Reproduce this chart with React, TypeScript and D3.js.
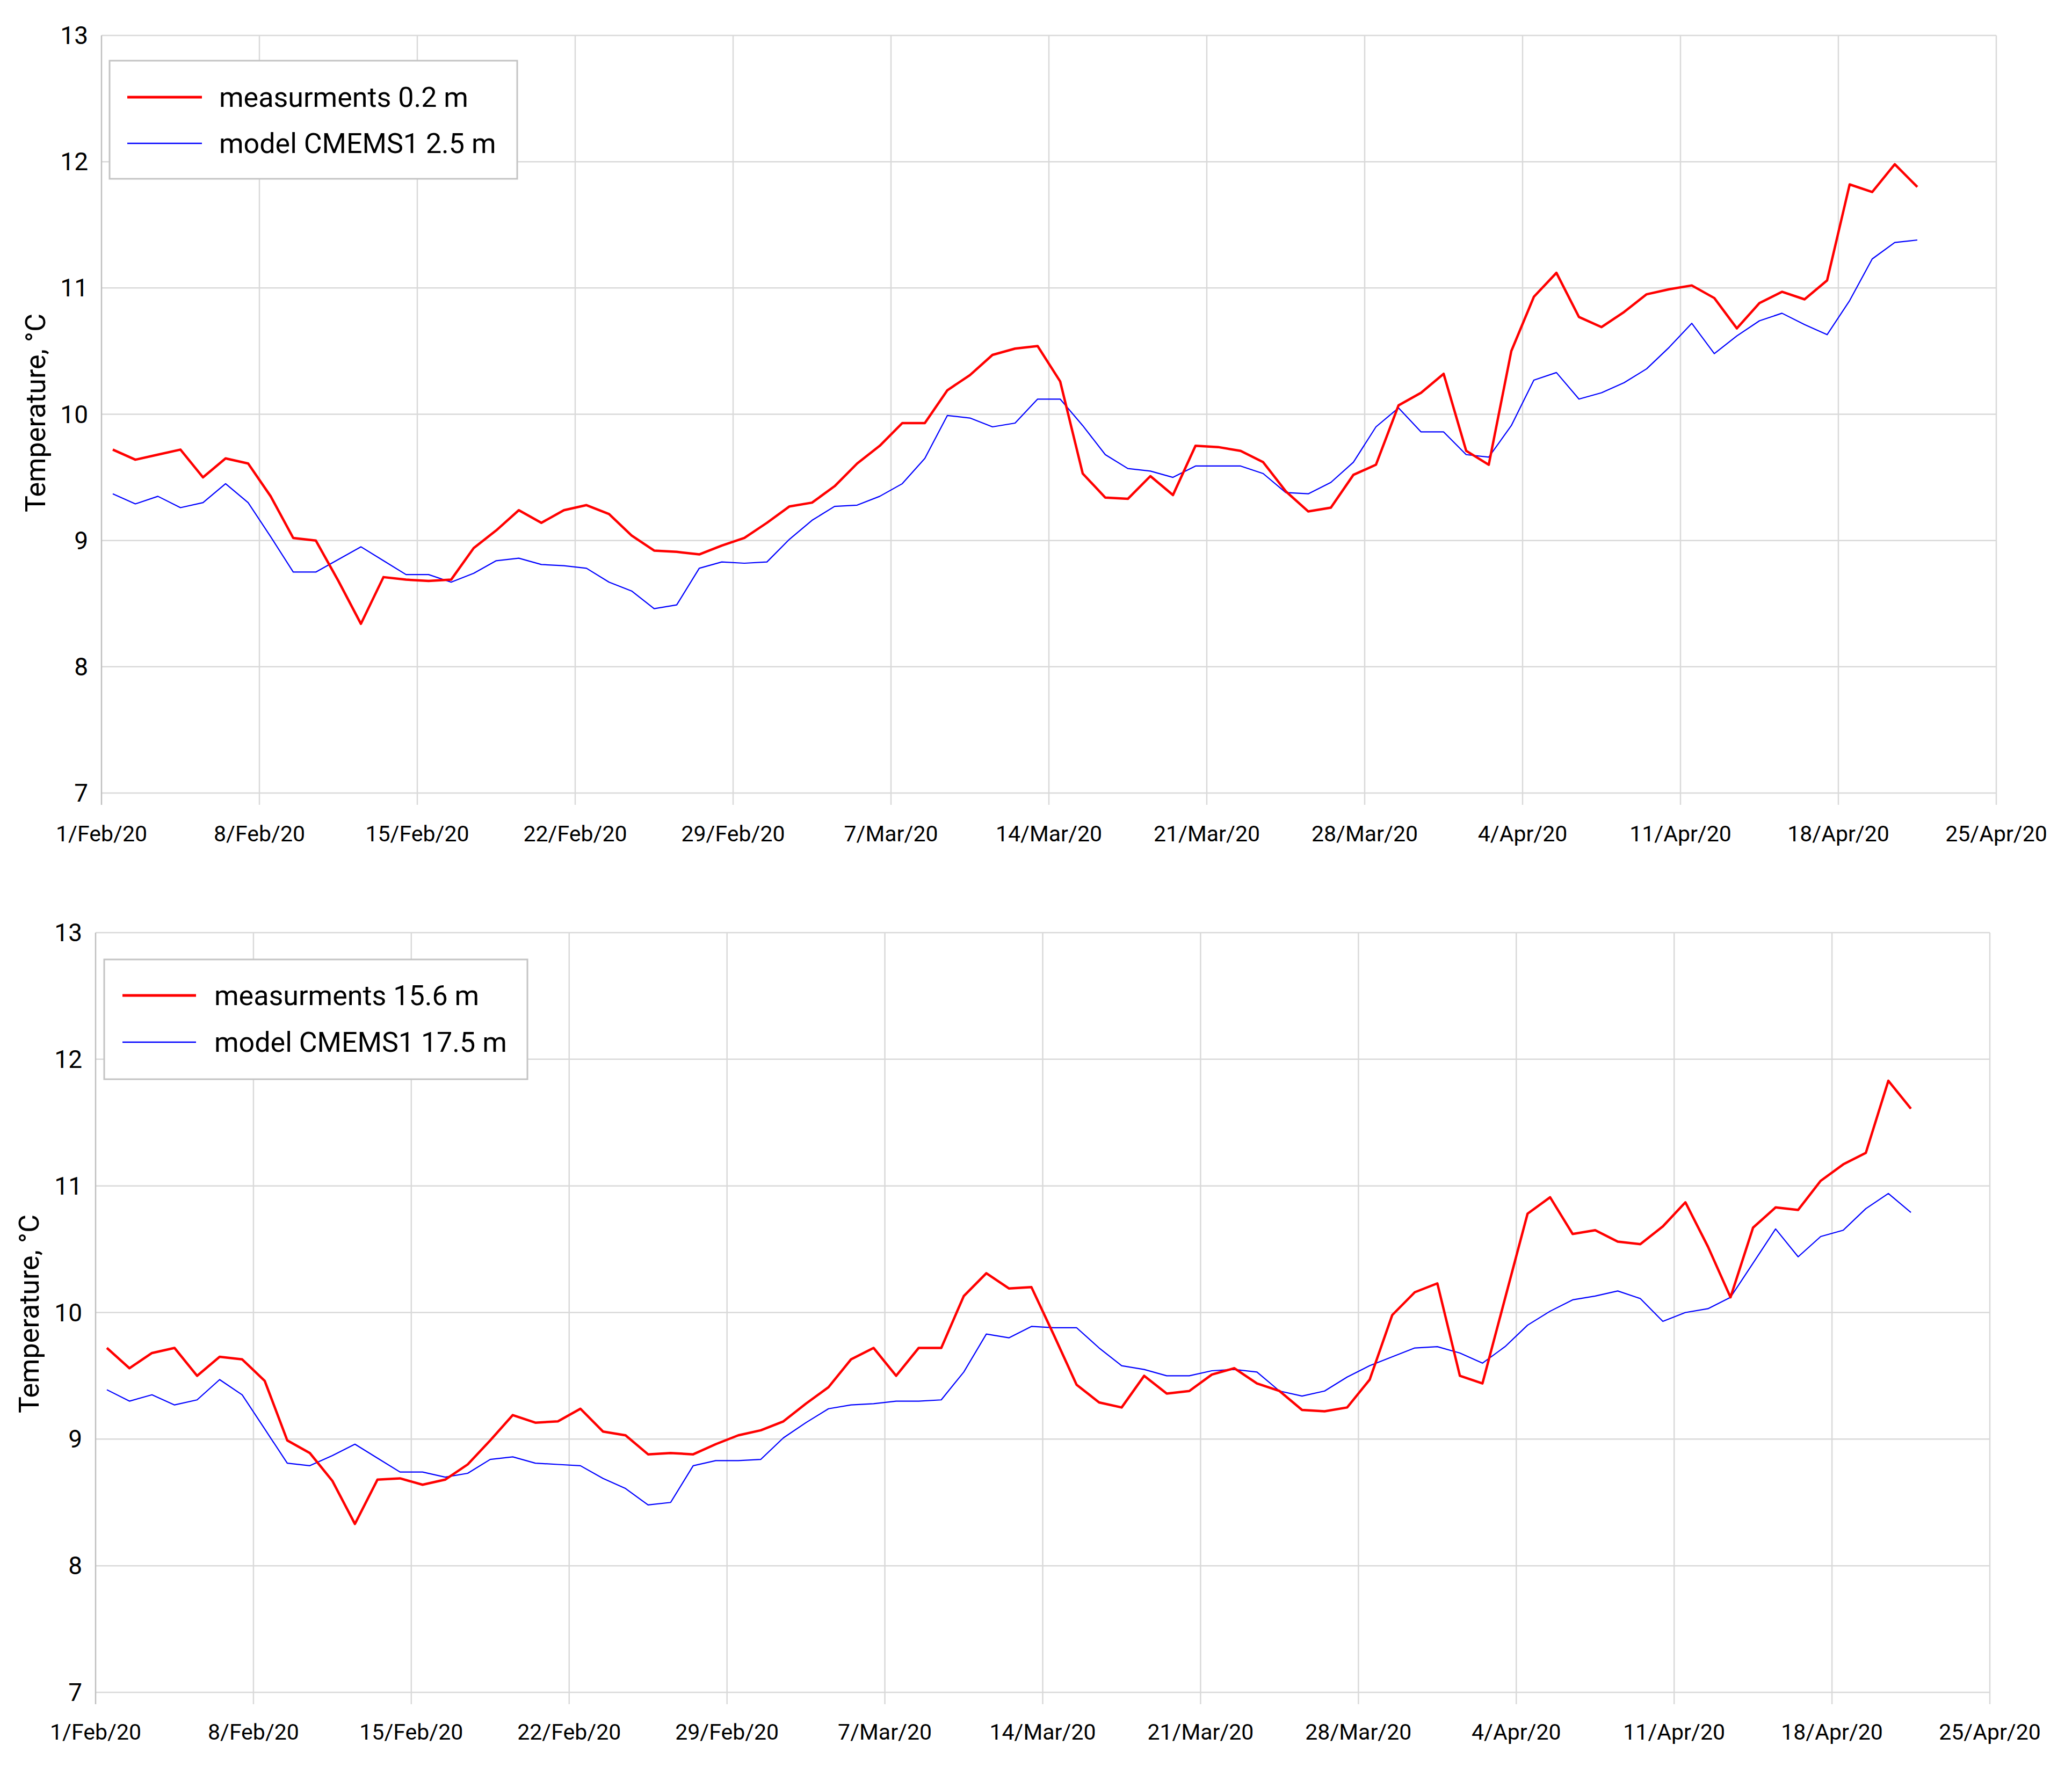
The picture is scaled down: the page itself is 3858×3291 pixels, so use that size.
import React from "react";
import * as d3 from "d3";

// ---- data (daily values, 1 Feb 2020 .. 21 Apr 2020) ----
const START_DATE = "1/Feb/20";
const xTickLabels = ["1/Feb/20", "8/Feb/20", "15/Feb/20", "22/Feb/20", "29/Feb/20", "7/Mar/20", "14/Mar/20", "21/Mar/20", "28/Mar/20", "4/Apr/20", "11/Apr/20", "18/Apr/20", "25/Apr/20"];
const yTicks = [7, 8, 9, 10, 11, 12, 13];

const measSurface = [9.72, 9.64, 9.68, 9.72, 9.50, 9.65, 9.61, 9.35, 9.02, 9.00, 8.68, 8.34, 8.71, 8.69, 8.68, 8.69, 8.94, 9.08, 9.24, 9.14, 9.24, 9.28, 9.21, 9.04, 8.92, 8.91, 8.89, 8.96, 9.02, 9.14, 9.27, 9.30, 9.43, 9.61, 9.75, 9.93, 9.93, 10.19, 10.31, 10.47, 10.52, 10.54, 10.26, 9.53, 9.34, 9.33, 9.51, 9.36, 9.75, 9.74, 9.71, 9.62, 9.39, 9.23, 9.26, 9.52, 9.60, 10.07, 10.17, 10.32, 9.71, 9.60, 10.50, 10.93, 11.12, 10.77, 10.69, 10.81, 10.95, 10.99, 11.02, 10.92, 10.68, 10.88, 10.97, 10.91, 11.06, 11.82, 11.76, 11.98, 11.80];
const modelSurface = [9.37, 9.29, 9.35, 9.26, 9.30, 9.45, 9.30, 9.03, 8.75, 8.75, 8.85, 8.95, 8.84, 8.73, 8.73, 8.67, 8.74, 8.84, 8.86, 8.81, 8.80, 8.78, 8.67, 8.60, 8.46, 8.49, 8.78, 8.83, 8.82, 8.83, 9.01, 9.16, 9.27, 9.28, 9.35, 9.45, 9.65, 9.99, 9.97, 9.90, 9.93, 10.12, 10.12, 9.91, 9.68, 9.57, 9.55, 9.50, 9.59, 9.59, 9.59, 9.53, 9.38, 9.37, 9.46, 9.62, 9.90, 10.05, 9.86, 9.86, 9.68, 9.66, 9.91, 10.27, 10.33, 10.12, 10.17, 10.25, 10.36, 10.53, 10.72, 10.48, 10.62, 10.74, 10.80, 10.71, 10.63, 10.90, 11.23, 11.36, 11.38];
const measBottom = [9.72, 9.56, 9.68, 9.72, 9.50, 9.65, 9.63, 9.46, 8.99, 8.89, 8.67, 8.33, 8.68, 8.69, 8.64, 8.68, 8.80, 8.99, 9.19, 9.13, 9.14, 9.24, 9.06, 9.03, 8.88, 8.89, 8.88, 8.96, 9.03, 9.07, 9.14, 9.28, 9.41, 9.63, 9.72, 9.50, 9.72, 9.72, 10.13, 10.31, 10.19, 10.20, 9.82, 9.43, 9.29, 9.25, 9.50, 9.36, 9.38, 9.51, 9.56, 9.44, 9.38, 9.23, 9.22, 9.25, 9.47, 9.98, 10.16, 10.23, 9.50, 9.44, 10.11, 10.78, 10.91, 10.62, 10.65, 10.56, 10.54, 10.68, 10.87, 10.52, 10.12, 10.67, 10.83, 10.81, 11.04, 11.17, 11.26, 11.83, 11.61];
const modelBottom = [9.39, 9.30, 9.35, 9.27, 9.31, 9.47, 9.35, 9.08, 8.81, 8.79, 8.87, 8.96, 8.85, 8.74, 8.74, 8.70, 8.73, 8.84, 8.86, 8.81, 8.80, 8.79, 8.69, 8.61, 8.48, 8.50, 8.79, 8.83, 8.83, 8.84, 9.01, 9.13, 9.24, 9.27, 9.28, 9.30, 9.30, 9.31, 9.53, 9.83, 9.80, 9.89, 9.88, 9.88, 9.72, 9.58, 9.55, 9.50, 9.50, 9.54, 9.55, 9.53, 9.38, 9.34, 9.38, 9.49, 9.58, 9.65, 9.72, 9.73, 9.68, 9.60, 9.73, 9.90, 10.01, 10.10, 10.13, 10.17, 10.11, 9.93, 10.00, 10.03, 10.12, 10.39, 10.66, 10.44, 10.60, 10.65, 10.82, 10.94, 10.79];

const legendTop = ["measurments 0.2 m", "model CMEMS1 2.5 m"];
const legendBottom = ["measurments 15.6 m", "model CMEMS1 17.5 m"];
const yTitle = "Temperature, °C";

const parse = d3.utcParse("%d/%b/%y");
const DAY = 864e5;

const FONT = "Roboto, 'Noto Sans', sans-serif";
const GRID = "#d9d9d9";

type PanelProps = {
  red: number[];
  blue: number[];
  labels: string[];
  left: number; right: number; top: number; bottom: number;
  legend: { x: number; y: number; w: number; h: number; lineX0: number; lineX1: number; textX: number; y1: number; y2: number };
  titleX: number; titleY: number; yLabelRight: number; xLabelY: number;
};

function Panel(p: PanelProps) {
  const tickDates = xTickLabels.map((s) => parse(s) as Date);
  const start = parse(START_DATE) as Date;
  const x = d3.scaleUtc().domain([tickDates[0], tickDates[tickDates.length - 1]]).range([p.left, p.right]);
  const y = d3.scaleLinear().domain([7, 13]).range([p.bottom, p.top]);
  const pointDate = (i: number) => new Date(start.getTime() + (i + 0.5) * DAY);
  const line = d3.line<number>().x((_, i) => x(pointDate(i))).y((v) => y(v));
  const L = p.legend;
  return (
    <g>
      {yTicks.map((t) => (
        <line key={"h" + t} x1={p.left} x2={p.right} y1={y(t)} y2={y(t)} stroke={GRID} strokeWidth={2.5} />
      ))}
      {tickDates.map((d, i) => (
        <line key={"v" + i} x1={x(d)} x2={x(d)} y1={p.top} y2={p.bottom + 22} stroke={i === 0 ? "#bfbfbf" : GRID} strokeWidth={2.5} />
      ))}
      {yTicks.map((t) => (
        <text key={"yl" + t} x={p.yLabelRight} y={y(t)} textAnchor="end" dominantBaseline="central" fontSize={46} fontFamily={FONT} fill="#000">{t}</text>
      ))}
      {tickDates.map((d, i) => (
        <text key={"xl" + i} x={x(d)} y={p.xLabelY} textAnchor="middle" dominantBaseline="central" fontSize={41} fontFamily={FONT} fill="#000">{xTickLabels[i]}</text>
      ))}
      <text transform={`translate(${p.titleX},${p.titleY}) rotate(-90)`} textAnchor="middle" dominantBaseline="central" fontSize={52} fontFamily={FONT} fill="#000">{yTitle}</text>
      <path d={line(p.blue) || ""} fill="none" stroke="#0000ff" strokeWidth={2.2} strokeLinejoin="round" />
      <path d={line(p.red) || ""} fill="none" stroke="#ff0000" strokeWidth={4.5} strokeLinejoin="round" />
      <rect x={L.x} y={L.y} width={L.w} height={L.h} fill="#fff" stroke="#c4c4c4" strokeWidth={3} />
      <line x1={L.lineX0} x2={L.lineX1} y1={L.y1} y2={L.y1} stroke="#ff0000" strokeWidth={5} />
      <line x1={L.lineX0} x2={L.lineX1} y1={L.y2} y2={L.y2} stroke="#0000ff" strokeWidth={2.5} />
      <text x={L.textX} y={L.y1} dominantBaseline="central" fontSize={52} fontFamily={FONT} fill="#000">{p.labels[0]}</text>
      <text x={L.textX} y={L.y2} dominantBaseline="central" fontSize={52} fontFamily={FONT} fill="#000">{p.labels[1]}</text>
    </g>
  );
}

export default function App() {
  return (
    <svg width={3858} height={3291} style={{ position: "absolute", left: 0, top: 0, background: "#fff" }}>
      <rect x={0} y={0} width={3858} height={3291} fill="#fff" />
      <Panel
        red={measSurface}
        blue={modelSurface}
        labels={legendTop}
        left={189} right={3717} top={66} bottom={1477}
        legend={{ x: 204, y: 113, w: 759, h: 220, lineX0: 237, lineX1: 376, textX: 408, y1: 181, y2: 267 }}
        titleX={66} titleY={769} yLabelRight={164} xLabelY={1553}
      />
      <Panel
        red={measBottom}
        blue={modelBottom}
        labels={legendBottom}
        left={178} right={3705} top={1737} bottom={3152}
        legend={{ x: 194, y: 1787, w: 788, h: 223, lineX0: 228, lineX1: 365, textX: 399, y1: 1854, y2: 1941 }}
        titleX={54} titleY={2447} yLabelRight={153} xLabelY={3226}
      />
    </svg>
  );
}
